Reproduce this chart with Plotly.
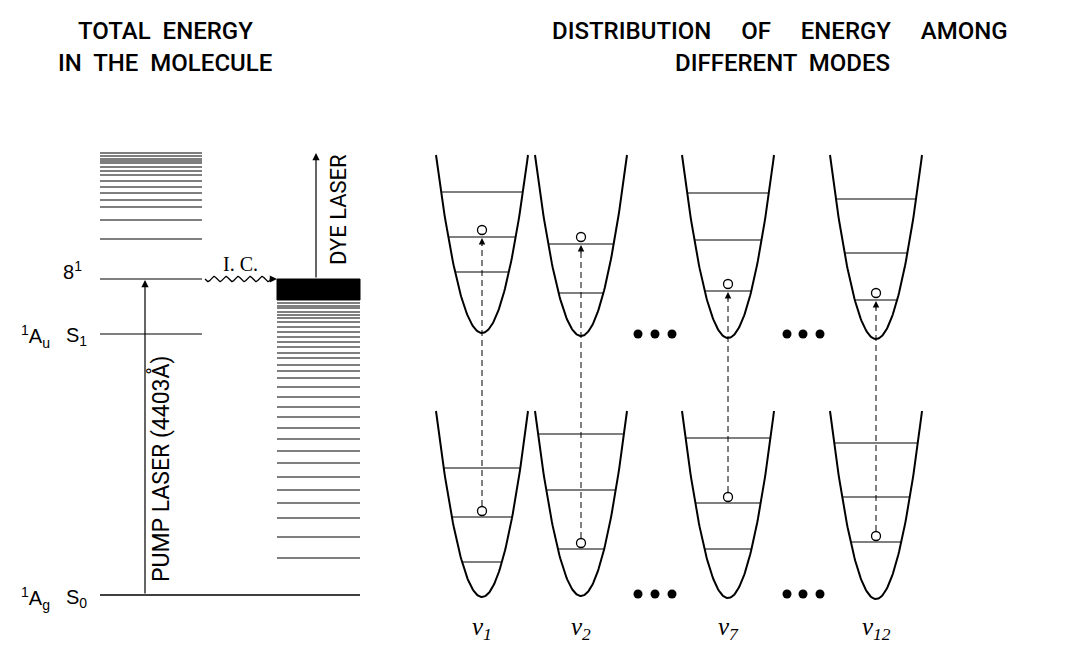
import numpy as np
import plotly.graph_objects as go

# ---------------- data ----------------
# Left panel: energy levels (vertical position in diagram units, downward)
s1_vib_levels = [153, 156, 159, 161, 163, 167, 171, 175, 181, 187, 193, 200, 207, 220, 239]
level_8_1 = 279
level_S1 = 334
level_S0 = 595
s0_bath_levels = [303, 306, 308, 312, 315, 318, 322, 327, 332, 337, 342, 347, 353, 358,
                  365, 371, 378, 387, 397, 407, 417, 428, 439, 451, 463, 477, 490, 503,
                  518, 537, 558]
bath_dense_bottom = 300

# Right panel: normal modes
mode_labels = ["ν<sub>1</sub>", "ν<sub>2</sub>", "ν<sub>7</sub>", "ν<sub>12</sub>"]
mode_x = [482, 581, 728, 876]
upper_min = [333, 336, 338, 339]
upper_levels = [[192, 237, 272], [244, 293], [193, 240, 291], [199, 253, 300]]
upper_occ = [237, 244, 291, 300]
lower_min = [597, 596, 598, 599]
lower_levels = [[468, 517, 562], [434, 490, 549], [438, 503, 549], [443, 497, 542]]
lower_occ = [517, 549, 503, 542]
upper_top, lower_top = 155, 411
well_halfwidth = 46
ellipsis_x = [638, 655, 672, 787, 803, 820]

# ---------------- figure ----------------
fig = go.Figure()
K = "black"

def hline(xs, ys, width=1.2, color=K, dash=None):
    fig.add_trace(go.Scatter(x=xs, y=ys, mode="lines",
                             line=dict(color=color, width=width, dash=dash),
                             hoverinfo="skip", showlegend=False))

def levels(x0, x1, ys, width=1.2):
    xs, yy = [], []
    for y in ys:
        xs += [x0, x1, None]
        yy += [y, y, None]
    hline(xs, yy, width)

# Left block of S1 vibrational levels
levels(100, 202, s1_vib_levels)
levels(100, 202, [level_8_1, level_S1])
# S0 ground level
levels(100, 360, [level_S0], 1.4)
# dense bath of S0 levels
levels(277, 360, s0_bath_levels)
fig.add_trace(go.Scatter(x=[277, 360, 360, 277, 277],
                         y=[level_8_1, level_8_1, bath_dense_bottom, bath_dense_bottom, level_8_1],
                         mode="lines", fill="toself", fillcolor=K, line=dict(color=K, width=1),
                         hoverinfo="skip", showlegend=False))

# Wavy I.C. arrow
wx = np.linspace(205, 271, 240)
wy = level_8_1 + 2.6 * np.sin((wx - 205) / 66 * 2 * np.pi * 5.5)
hline(list(wx), list(wy), 1.3)

ann = []
def arrow(x, y, ax, ay, width=1.2, head=2, size=1.2):
    ann.append(dict(x=x, y=y, ax=ax, ay=ay, xref="x", yref="y", axref="x", ayref="y",
                    showarrow=True, arrowhead=head, arrowsize=size, arrowwidth=width,
                    arrowcolor=K, text=""))

arrow(277, level_8_1, 268, level_8_1)
# pump laser
arrow(145, level_8_1 + 1, 145, level_S0)
# dye laser
arrow(316, 153, 316, level_8_1)

# Parabolic wells
def well(cx, ymin, ytop, lev):
    t = np.linspace(-1, 1, 121)
    xs = cx + well_halfwidth * t
    ys = ymin - (ymin - ytop) * t ** 2
    hline(list(xs), list(ys), 2.0)
    xl, yl = [], []
    for y in lev:
        hw = well_halfwidth * np.sqrt((ymin - y) / (ymin - ytop))
        xl += [cx - hw, cx + hw, None]
        yl += [y, y, None]
    hline(xl, yl, 1.1)

for i, cx in enumerate(mode_x):
    well(cx, upper_min[i], upper_top, upper_levels[i])
    well(cx, lower_min[i], lower_top, lower_levels[i])
    # dashed vertical correlation line
    hline([cx, cx], [lower_occ[i] - 11, upper_occ[i] + 8], 1.0, dash="6px,4px")
    arrow(cx, upper_occ[i] + 1, cx, upper_occ[i] + 10, width=1.0, head=2, size=1.3)

# occupation circles
cxs = mode_x + mode_x
cys = [y - 7 for y in upper_occ] + [y - 6 for y in lower_occ]
fig.add_trace(go.Scatter(x=cxs, y=cys, mode="markers",
                         marker=dict(symbol="circle-open", size=9, color=K, line=dict(width=1.3)),
                         hoverinfo="skip", showlegend=False))
# ellipsis dots
fig.add_trace(go.Scatter(x=ellipsis_x + ellipsis_x,
                         y=[334] * len(ellipsis_x) + [594] * len(ellipsis_x), mode="markers",
                         marker=dict(symbol="circle", size=9, color=K),
                         hoverinfo="skip", showlegend=False))

# ---------------- text ----------------
TF = dict(family="Roboto, Liberation Sans, sans-serif", size=24, color=K, weight=500)
SF = dict(family="Liberation Sans, Arial, sans-serif", size=20, color=K)
LF = dict(family="Roboto, Liberation Sans, Arial, sans-serif", size=23, color=K)
def text(x, y, s, font, angle=0, xanchor="center"):
    ann.append(dict(x=x, y=y, xref="x", yref="y", text=s, showarrow=False,
                    font=font, textangle=angle, xanchor=xanchor, yanchor="middle"))

text(165, 31, "TOTAL  ENERGY", TF)
text(165, 63, "IN  THE  MOLECULE", TF)
text(780, 31, "DISTRIBUTION     OF     ENERGY     AMONG", TF)
text(782, 63, "DIFFERENT  MODES", TF)

text(72, 270, "8<sup>1</sup>", SF)
text(35, 336, "<sup>1</sup>A<sub>u</sub>", SF)
text(76, 336, "S<sub>1</sub>", SF)
text(35, 598, "<sup>1</sup>A<sub>g</sub>", SF)
text(76, 598, "S<sub>0</sub>", SF)
text(160, 469, "PUMP LASER (4403Å)", LF, angle=-90)
text(338, 210, "DYE LASER", dict(LF, size=22), angle=-90)
text(240, 264, "I. C.", dict(family="Liberation Serif, Times New Roman, serif", size=20, color=K))

for i, cx in enumerate(mode_x):
    text(cx, 628, "<i>" + mode_labels[i] + "</i>",
         dict(family="Liberation Serif, Times New Roman, serif", size=25, color=K))

# the page body has an 8 px margin; shift the axis ranges so diagram units equal page pixels
fig.update_layout(
    width=1075, height=648, margin=dict(l=0, r=0, t=0, b=0),
    paper_bgcolor="white", plot_bgcolor="white",
    xaxis=dict(range=[8, 1083], visible=False, fixedrange=True),
    yaxis=dict(range=[656, 8], visible=False, fixedrange=True),
    annotations=ann, showlegend=False,
)
fig.write_html("out.html")
